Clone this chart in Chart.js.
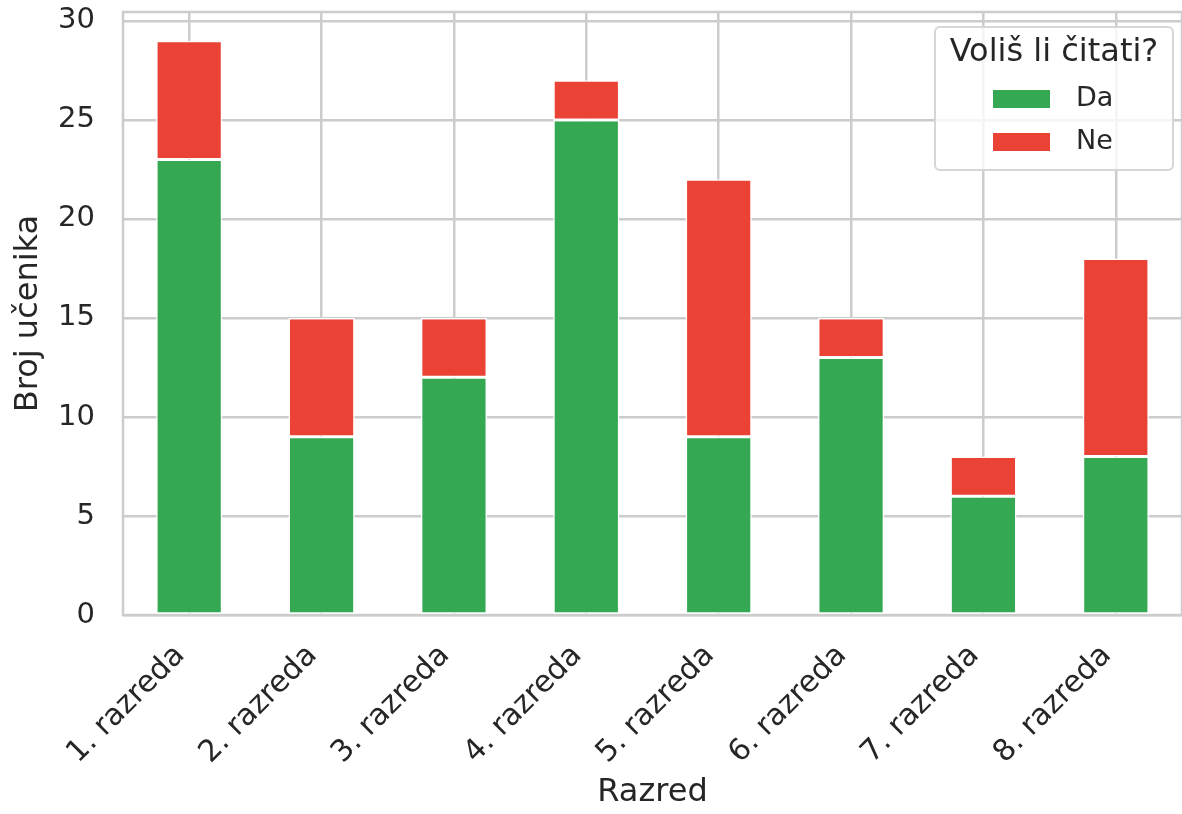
<!DOCTYPE html>
<html lang="hr">
<head>
  <meta charset="UTF-8" />
  <title>Voliš li čitati?</title>
  <script src="https://cdn.jsdelivr.net/npm/chart.js"></script>
  <style>
    body { margin: 0; background: #fff; }
    #wrap { width: 1182px; height: 814px; }
  </style>
</head>
<body>
  <div id="wrap"><canvas id="chart" width="1182" height="814"></canvas></div>

  <script>
    const razredi = ["1. razreda", "2. razreda", "3. razreda", "4. razreda",
                     "5. razreda", "6. razreda", "7. razreda", "8. razreda"];
    const da = [23, 9, 12, 25, 9, 13, 6, 8];
    const ne = [6, 6, 3, 2, 13, 2, 2, 10];
    const yTicks = [0, 5, 10, 15, 20, 25, 30];
    const legendTitle = "Voliš li čitati?";

    const FONT = "'DejaVu Sans', sans-serif";
    const TEXT = "#262626";
    const GRID = "#cccccc";

    // frame round the plot area plus the legend box in the upper right
    const frameAndLegend = {
      id: "frameAndLegend",
      beforeDatasetsDraw(chart) {
        const { ctx, chartArea: a } = chart;
        ctx.save();
        ctx.strokeStyle = GRID;
        ctx.lineWidth = 2.5;
        ctx.strokeRect(a.left, a.top, a.right - a.left, a.bottom - a.top);
        ctx.restore();
      },
      afterDraw(chart) {
        const ctx = chart.ctx;
        const x = 935, y = 27, w = 238, h = 143;
        ctx.save();
        ctx.fillStyle = "rgba(255,255,255,0.8)";
        ctx.strokeStyle = "#d6d6d6";
        ctx.lineWidth = 2;
        ctx.beginPath();
        ctx.roundRect(x, y, w, h, 5);
        ctx.fill();
        ctx.stroke();

        ctx.fillStyle = TEXT;
        ctx.textBaseline = "middle";
        ctx.textAlign = "center";
        ctx.font = "32px " + FONT;
        ctx.fillText(legendTitle, x + w / 2, 53);

        ctx.font = "27px " + FONT;
        ctx.textAlign = "left";
        chart.data.datasets.forEach((ds, i) => {
          const cy = 99 + i * 43;
          ctx.fillStyle = ds.backgroundColor;
          ctx.fillRect(993, cy - 9, 57, 18);
          ctx.fillStyle = TEXT;
          ctx.fillText(ds.label, 1076, cy);
        });
        ctx.restore();
      }
    };

    new Chart(document.getElementById("chart"), {
      type: "bar",
      data: {
        labels: razredi,
        datasets: [
          { label: "Da", data: da, backgroundColor: "#34a853" },
          { label: "Ne", data: ne, backgroundColor: "#ea4335" }
        ]
      },
      options: {
        responsive: false,
        animation: false,
        devicePixelRatio: 1,
        layout: { padding: { top: 12, right: -6, left: 0, bottom: 0 } },
        datasets: {
          bar: {
            barPercentage: 0.5,
            categoryPercentage: 1,
            borderColor: "#ffffff",
            borderWidth: 1.5,
            borderSkipped: false
          }
        },
        plugins: {
          legend: { display: false },
          tooltip: { enabled: false }
        },
        scales: {
          x: {
            stacked: true,
            offset: true,
            afterFit(scale) {
              scale.height = 814 - 615;
              scale.paddingLeft = 0;
              scale.paddingRight = 0;
            },
            grid: { offset: false, color: GRID, lineWidth: 2.5, drawTicks: false },
            border: { display: false },
            ticks: {
              color: TEXT,
              font: { family: FONT, size: 30 },
              maxRotation: 45,
              minRotation: 45,
              padding: 23,
              labelOffset: -9,
              autoSkip: false
            },
            title: {
              display: true,
              text: "Razred",
              color: TEXT,
              font: { family: FONT, size: 32 },
              padding: { top: 0, bottom: 2 }
            }
          },
          y: {
            stacked: true,
            min: 0,
            max: 30.45,
            afterFit(scale) {
              scale.width = 123;
              scale.paddingTop = 0;
              scale.paddingBottom = 0;
            },
            afterBuildTicks(scale) { scale.ticks = yTicks.map(v => ({ value: v })); },
            grid: { color: GRID, lineWidth: 2.5, drawTicks: false },
            border: { display: false },
            ticks: {
              color: TEXT,
              font: { family: FONT, size: 29 },
              padding: 28
            },
            title: {
              display: true,
              text: "Broj učenika",
              color: TEXT,
              font: { family: FONT, size: 32 },
              padding: { top: 9, bottom: 0 }
            }
          }
        }
      },
      plugins: [frameAndLegend]
    });
  </script>
</body>
</html>
